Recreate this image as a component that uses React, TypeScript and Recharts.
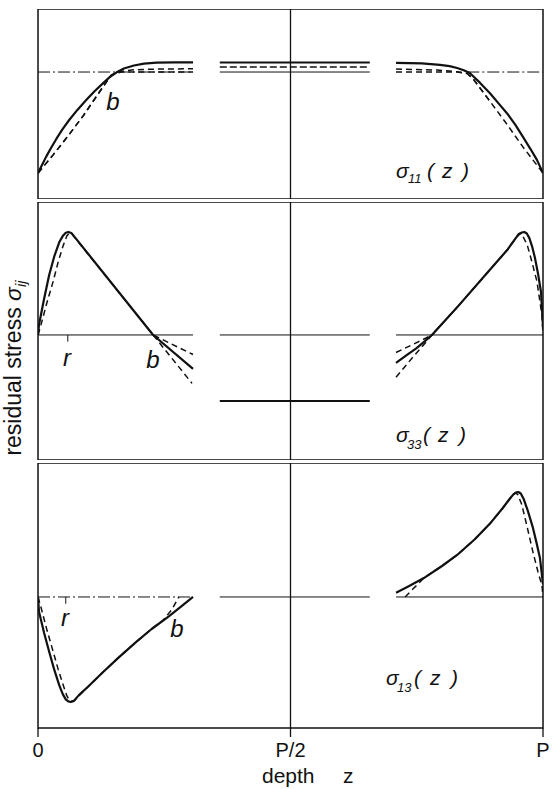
import React from "react";
import { LineChart, Line, XAxis, YAxis, ReferenceLine, ReferenceArea } from "recharts";

type Pt = { z: number; v: number };

// ---- axis ticks (depth z as fraction of period P) ----
const zTicks = [0, 0.5, 1];
const zTickLabels = ["0", "P/2", "P"];

// ---- depth segments drawn (gaps between them) ----
const leftSeg = [0, 0.307];
const midSeg = [0.36, 0.657];
const rightSeg = [0.709, 1];

// ---- panel value ranges ----
const dom11 = [-0.257, 1.624];
const dom33 = [-1.214, 1.291];
const dom13 = [-1.248, 1.276];

// ---- sigma_11 ----
const s11SolidLeft: Pt[] = [
  { z: 0, v: 0 }, { z: 0.008, v: 0.08 }, { z: 0.016, v: 0.16 }, { z: 0.026, v: 0.25 },
  { z: 0.036, v: 0.335 }, { z: 0.048, v: 0.43 }, { z: 0.061, v: 0.52 }, { z: 0.078, v: 0.625 },
  { z: 0.095, v: 0.72 }, { z: 0.112, v: 0.81 }, { z: 0.129, v: 0.89 }, { z: 0.142, v: 0.95 },
  { z: 0.155, v: 0.995 }, { z: 0.17, v: 1.035 }, { z: 0.19, v: 1.065 }, { z: 0.21, v: 1.083 },
  { z: 0.235, v: 1.093 }, { z: 0.27, v: 1.096 }, { z: 0.307, v: 1.096 },
];
const s11DashLeftA: Pt[] = [
  { z: 0, v: 0 }, { z: 0.03, v: 0.18 }, { z: 0.06, v: 0.37 }, { z: 0.09, v: 0.57 },
  { z: 0.12, v: 0.79 }, { z: 0.145, v: 0.97 }, { z: 0.16, v: 1.005 }, { z: 0.19, v: 1.022 },
  { z: 0.24, v: 1.03 }, { z: 0.307, v: 1.032 },
];
const s11DashLeftB: Pt[] = [
  { z: 0, v: 0 }, { z: 0.03, v: 0.18 }, { z: 0.06, v: 0.37 }, { z: 0.09, v: 0.57 },
  { z: 0.12, v: 0.79 }, { z: 0.145, v: 0.97 }, { z: 0.165, v: 1.0 }, { z: 0.307, v: 1.0 },
];
const s11SolidRight: Pt[] = [
  { z: 0.709, v: 1.09 }, { z: 0.76, v: 1.085 }, { z: 0.796, v: 1.07 }, { z: 0.815, v: 1.058 },
  { z: 0.83, v: 1.04 }, { z: 0.843, v: 1.018 }, { z: 0.855, v: 0.99 }, { z: 0.875, v: 0.895 },
  { z: 0.895, v: 0.79 }, { z: 0.912, v: 0.69 }, { z: 0.929, v: 0.59 }, { z: 0.945, v: 0.48 },
  { z: 0.96, v: 0.36 }, { z: 0.975, v: 0.24 }, { z: 0.988, v: 0.13 }, { z: 1, v: 0 },
];
const s11DashRightA: Pt[] = [
  { z: 0.709, v: 1.03 }, { z: 0.79, v: 1.02 }, { z: 0.83, v: 1.003 }, { z: 0.85, v: 0.985 },
  { z: 0.862, v: 0.93 }, { z: 0.895, v: 0.71 }, { z: 0.929, v: 0.48 }, { z: 0.96, v: 0.26 },
  { z: 1, v: 0 },
];
const s11DashRightB: Pt[] = [
  { z: 0.709, v: 1.0 }, { z: 0.83, v: 1.0 }, { z: 0.85, v: 0.985 }, { z: 0.862, v: 0.93 },
  { z: 0.895, v: 0.71 },
];
const s11MidLevels = [1.095, 1.05]; // solid, dashed
const s11Bulk = 1.0;

// ---- sigma_33 ----
const s33SolidLeft: Pt[] = [
  { z: 0, v: 0 }, { z: 0.002, v: 0.1 }, { z: 0.012, v: 0.35 }, { z: 0.022, v: 0.58 },
  { z: 0.032, v: 0.76 }, { z: 0.042, v: 0.9 }, { z: 0.049, v: 0.96 }, { z: 0.055, v: 0.993 },
  { z: 0.06, v: 1.0 }, { z: 0.066, v: 0.99 }, { z: 0.072, v: 0.955 }, { z: 0.228, v: 0 },
  { z: 0.307, v: -0.33 },
];
const s33DashLeftA: Pt[] = [
  { z: 0, v: 0 }, { z: 0.006, v: 0.1 }, { z: 0.018, v: 0.32 }, { z: 0.03, v: 0.52 },
  { z: 0.04, v: 0.71 }, { z: 0.05, v: 0.87 }, { z: 0.057, v: 0.96 }, { z: 0.062, v: 0.99 },
  { z: 0.068, v: 0.975 }, { z: 0.228, v: 0 }, { z: 0.307, v: -0.19 },
];
const s33DashLeftB: Pt[] = [
  { z: 0.228, v: 0 }, { z: 0.305, v: -0.47 },
];
const s33SolidRight: Pt[] = [
  { z: 0.709, v: -0.27 }, { z: 0.73, v: -0.195 }, { z: 0.749, v: -0.13 }, { z: 0.765, v: -0.065 },
  { z: 0.78, v: 0 }, { z: 0.832, v: 0.28 }, { z: 0.897, v: 0.645 }, { z: 0.93, v: 0.83 },
  { z: 0.946, v: 0.94 }, { z: 0.952, v: 0.975 }, { z: 0.958, v: 0.995 }, { z: 0.963, v: 1.0 },
  { z: 0.968, v: 0.985 }, { z: 0.973, v: 0.94 }, { z: 0.979, v: 0.85 }, { z: 0.984, v: 0.75 },
  { z: 0.99, v: 0.6 }, { z: 0.996, v: 0.42 }, { z: 1, v: 0.08 },
];
const s33DashRightA: Pt[] = [
  { z: 0.709, v: -0.17 }, { z: 0.76, v: -0.05 }, { z: 0.78, v: 0 }, { z: 0.832, v: 0.28 },
  { z: 0.897, v: 0.645 }, { z: 0.93, v: 0.83 }, { z: 0.946, v: 0.94 }, { z: 0.951, v: 0.98 },
  { z: 0.955, v: 0.99 }, { z: 0.96, v: 0.96 }, { z: 0.969, v: 0.87 }, { z: 0.978, v: 0.71 },
  { z: 0.988, v: 0.52 }, { z: 0.998, v: 0.19 }, { z: 1, v: 0 },
];
const s33DashRightB: Pt[] = [
  { z: 0.709, v: -0.41 }, { z: 0.745, v: -0.2 }, { z: 0.77, v: -0.06 }, { z: 0.78, v: 0 },
  { z: 0.832, v: 0.28 },
];
const s33MidLevel = -0.64;
const s33TickR: Pt[] = [{ z: 0.059, v: 0 }, { z: 0.059, v: -0.065 }];

// ---- sigma_13 ----
const s13SolidLeft: Pt[] = [
  { z: 0, v: 0 }, { z: 0.002, v: -0.14 }, { z: 0.012, v: -0.34 }, { z: 0.022, v: -0.52 },
  { z: 0.032, v: -0.69 }, { z: 0.042, v: -0.84 }, { z: 0.049, v: -0.925 }, { z: 0.055, v: -0.975 },
  { z: 0.06, v: -0.995 }, { z: 0.065, v: -1.0 }, { z: 0.071, v: -0.99 }, { z: 0.081, v: -0.935 },
  { z: 0.1, v: -0.85 }, { z: 0.129, v: -0.715 }, { z: 0.16, v: -0.575 }, { z: 0.194, v: -0.43 },
  { z: 0.225, v: -0.305 }, { z: 0.259, v: -0.185 }, { z: 0.285, v: -0.085 }, { z: 0.307, v: 0 },
];
const s13DashLeft: Pt[] = [
  { z: 0, v: 0 }, { z: 0.006, v: -0.1 }, { z: 0.018, v: -0.32 }, { z: 0.03, v: -0.52 },
  { z: 0.04, v: -0.69 }, { z: 0.05, v: -0.84 }, { z: 0.057, v: -0.94 }, { z: 0.062, v: -0.985 },
  { z: 0.068, v: -0.995 }, { z: 0.075, v: -0.975 }, { z: 0.081, v: -0.94 }, { z: 0.1, v: -0.85 },
  { z: 0.129, v: -0.715 }, { z: 0.16, v: -0.575 }, { z: 0.194, v: -0.43 }, { z: 0.225, v: -0.305 },
  { z: 0.248, v: -0.22 }, { z: 0.265, v: -0.12 }, { z: 0.279, v: 0 },
];
const s13SolidRight: Pt[] = [
  { z: 0.709, v: 0.04 }, { z: 0.735, v: 0.105 }, { z: 0.764, v: 0.18 }, { z: 0.8, v: 0.295 },
  { z: 0.83, v: 0.4 }, { z: 0.865, v: 0.55 }, { z: 0.897, v: 0.71 }, { z: 0.92, v: 0.845 },
  { z: 0.935, v: 0.94 }, { z: 0.941, v: 0.975 }, { z: 0.946, v: 0.995 }, { z: 0.951, v: 1.0 },
  { z: 0.956, v: 0.985 }, { z: 0.962, v: 0.93 }, { z: 0.97, v: 0.82 }, { z: 0.98, v: 0.66 },
  { z: 0.987, v: 0.52 }, { z: 0.994, v: 0.37 }, { z: 1, v: 0.12 },
];
const s13DashRight: Pt[] = [
  { z: 0.727, v: 0 }, { z: 0.74, v: 0.065 }, { z: 0.752, v: 0.12 }, { z: 0.764, v: 0.18 },
  { z: 0.8, v: 0.295 }, { z: 0.83, v: 0.4 }, { z: 0.865, v: 0.55 }, { z: 0.897, v: 0.71 },
  { z: 0.92, v: 0.845 }, { z: 0.935, v: 0.94 }, { z: 0.941, v: 0.975 }, { z: 0.946, v: 0.99 },
  { z: 0.95, v: 0.975 }, { z: 0.958, v: 0.88 }, { z: 0.968, v: 0.68 }, { z: 0.98, v: 0.43 },
  { z: 0.99, v: 0.24 }, { z: 0.998, v: 0.11 }, { z: 1, v: 0 },
];
const s13TickR: Pt[] = [{ z: 0.055, v: 0 }, { z: 0.055, v: -0.065 }];

// ---- styles ----
const INK = "#111";
const FONT = "'Liberation Sans', Arial, Helvetica, sans-serif";
type Sty = { stroke: string; strokeWidth: number; strokeDasharray?: string };
const SOLID: Sty = { stroke: INK, strokeWidth: 2.2 };
const DASH: Sty = { stroke: INK, strokeWidth: 1.5, strokeDasharray: "6 4" };
const THIN: Sty = { stroke: INK, strokeWidth: 1 };
const DASHDOT: Sty = { stroke: INK, strokeWidth: 1, strokeDasharray: "12 3 2 3" };
const LEVEL: Sty = { stroke: INK, strokeWidth: 2 };
const LEVELDASH: Sty = { stroke: INK, strokeWidth: 1.5, strokeDasharray: "7 3" };

const seg = (s: number[], v: number): Pt[] => [{ z: s[0], v }, { z: s[1], v }];

type Series = { data: Pt[]; sty: Sty };

const panel1: Series[] = [
  { data: seg(leftSeg, s11Bulk), sty: DASHDOT },
  { data: seg(midSeg, s11Bulk), sty: THIN },
  { data: seg([0.85, 1], s11Bulk), sty: DASHDOT },
  { data: seg(midSeg, s11MidLevels[0]), sty: LEVEL },
  { data: seg(midSeg, s11MidLevels[1]), sty: LEVELDASH },
  { data: s11DashLeftA, sty: DASH },
  { data: s11DashLeftB, sty: DASH },
  { data: s11SolidLeft, sty: SOLID },
  { data: s11DashRightA, sty: DASH },
  { data: s11DashRightB, sty: DASH },
  { data: s11SolidRight, sty: SOLID },
];

const panel2: Series[] = [
  { data: seg(leftSeg, 0), sty: THIN },
  { data: seg(midSeg, 0), sty: THIN },
  { data: seg(rightSeg, 0), sty: THIN },
  { data: seg(midSeg, s33MidLevel), sty: LEVEL },
  { data: s33TickR, sty: THIN },
  { data: s33DashLeftA, sty: DASH },
  { data: s33DashLeftB, sty: DASH },
  { data: s33SolidLeft, sty: SOLID },
  { data: s33DashRightA, sty: DASH },
  { data: s33DashRightB, sty: DASH },
  { data: s33SolidRight, sty: SOLID },
];

const panel3: Series[] = [
  { data: seg(leftSeg, 0), sty: DASHDOT },
  { data: seg(midSeg, 0), sty: THIN },
  { data: seg(rightSeg, 0), sty: THIN },
  { data: s13TickR, sty: THIN },
  { data: s13DashLeft, sty: DASH },
  { data: s13SolidLeft, sty: SOLID },
  { data: s13DashRight, sty: DASH },
  { data: s13SolidRight, sty: SOLID },
];

function Panel(props: { top: number; height: number; domain: number[]; series: Series[]; axis?: boolean }) {
  const { top, height, domain, series, axis } = props;
  return (
    <div style={{ position: "absolute", left: 0, top }}>
      <LineChart width={552} height={height} margin={{ top: 0, right: 9, bottom: 0, left: 38 }}>
        <XAxis
          type="number"
          dataKey="z"
          domain={[0, 1]}
          ticks={zTicks}
          interval={0}
          hide={!axis}
          height={axis ? 61 : 0}
          axisLine={false}
          tickLine={{ stroke: INK, strokeWidth: 1.3 }}
          tickSize={9}
          tickMargin={6}
          tick={{ fill: INK, fontSize: 20, fontFamily: FONT }}
          tickFormatter={(v: number) => zTickLabels[zTicks.indexOf(v)] ?? ""}
          allowDataOverflow
        />
        <YAxis type="number" dataKey="v" domain={domain} hide allowDataOverflow />
        <ReferenceArea
          x1={0}
          x2={1}
          y1={domain[0]}
          y2={domain[1]}
          fill="none"
          fillOpacity={0}
          stroke={INK}
          strokeWidth={1.5}
          ifOverflow="visible"
        />
        <ReferenceLine x={0.5} stroke={INK} strokeWidth={1.3} />
        {series.map((s, i) => (
          <Line
            key={i}
            data={s.data}
            dataKey="v"
            type="linear"
            stroke={s.sty.stroke}
            strokeWidth={s.sty.strokeWidth}
            strokeDasharray={s.sty.strokeDasharray}
            strokeLinejoin="round"
            dot={false}
            activeDot={false}
            isAnimationActive={false}
          />
        ))}
      </LineChart>
    </div>
  );
}

export default function App() {
  const it = { fontStyle: "italic" as const };
  return (
    <div style={{ position: "absolute", left: 0, top: 0, width: 552, height: 789, background: "#fff", overflow: "hidden" }}>
      <Panel top={9} height={190} domain={dom11} series={panel1} />
      <Panel top={202} height={258} domain={dom33} series={panel2} />
      <Panel top={463} height={326} domain={dom13} series={panel3} axis />
      <svg
        width={552}
        height={789}
        style={{ position: "absolute", left: 0, top: 0, pointerEvents: "none" }}
        fontFamily={FONT}
        fill={INK}
      >
        {/* point labels */}
        <text x={113} y={110} fontSize={24} textAnchor="middle" {...it}>b</text>
        <text x={67} y={366} fontSize={24} textAnchor="middle" {...it}>r</text>
        <text x={153} y={368} fontSize={24} textAnchor="middle" {...it}>b</text>
        <text x={65} y={626} fontSize={24} textAnchor="middle" {...it}>r</text>
        <text x={177} y={637} fontSize={24} textAnchor="middle" {...it}>b</text>

        {/* component labels */}
        <text fontSize={21} {...it}>
          <tspan x={396} y={178}>σ</tspan>
          <tspan x={408} y={183} fontSize={13}>11</tspan>
          <tspan x={427} y={178}>(</tspan>
          <tspan x={442} y={178}>z</tspan>
          <tspan x={462} y={178}>)</tspan>
        </text>
        <text fontSize={21} {...it}>
          <tspan x={396} y={442}>σ</tspan>
          <tspan x={407} y={449} fontSize={13}>33</tspan>
          <tspan x={423} y={442}>(</tspan>
          <tspan x={438} y={442}>z</tspan>
          <tspan x={459} y={442}>)</tspan>
        </text>
        <text fontSize={21} {...it}>
          <tspan x={386} y={685}>σ</tspan>
          <tspan x={397} y={692} fontSize={13}>13</tspan>
          <tspan x={414} y={685}>(</tspan>
          <tspan x={430} y={685}>z</tspan>
          <tspan x={451} y={685}>)</tspan>
        </text>

        {/* axis titles */}
        <text transform="rotate(-90 21 368)" x={21} y={368} fontSize={23} textAnchor="middle">
          residual stress <tspan {...it}>σ</tspan>
          <tspan fontSize={15} dy={5} {...it}>ij</tspan>
        </text>
        <text fontSize={21}>
          <tspan x={262} y={783}>depth</tspan>
          <tspan x={343} y={783}>z</tspan>
        </text>
      </svg>
    </div>
  );
}
